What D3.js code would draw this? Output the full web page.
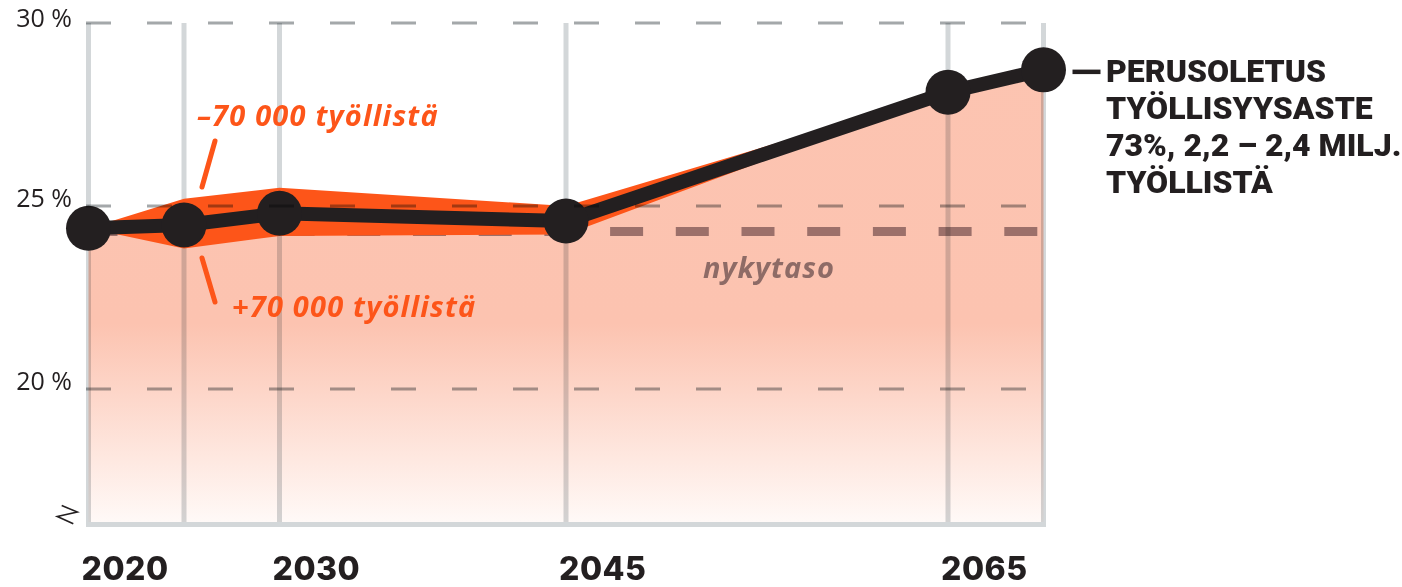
<!DOCTYPE html>
<html>
<head>
<meta charset="utf-8">
<script src="https://cdn.jsdelivr.net/npm/d3@7"></script>
<style>
  body { margin: 0; background: #fff; }
  svg { display: block; }
</style>
</head>
<body>
<div id="chart"></div>
<script>
// data
const years = [2020, 2025, 2030, 2045, 2065, 2070];
const baseRate = [24.39, 24.48, 24.80, 24.59, 28.11, 28.72];   // perusoletus
const bandHigh = [24.39, 25.20, 25.50, 25.00, 28.11, 28.72];   // -70 000 työllistä
const bandLow = [24.39, 23.84, 24.18, 24.22, 28.11, 28.72];    // +70 000 työllistä
const currentLevel = 24.30;                                    // nykytaso
const yTicks = [20, 25, 30];
const xLabels = [2020, 2030, 2045, 2065];
const yMin = 16.3;
const mainLabel = ['PERUSOLETUS', 'TYÖLLISYYSASTE', '73%, 2,2 – 2,4 MILJ.', 'TYÖLLISTÄ'];

const width = 1402, height = 587;
const black = '#231f20', orange = '#fd5519', grid = '#d3d7d9';

const svg = d3.select('#chart').append('svg')
    .attr('width', width)
    .attr('height', height);

const x = d3.scaleLinear().domain([2020, 2070]).range([88.5, 1043.5]);
const y = d3.scaleLinear().domain([20, 30]).range([389, 23]);

const rows = years.map((yr, i) => ({year: yr, v: baseRate[i], hi: bandHigh[i], lo: bandLow[i]}));

// gradient for the area fill
const defs = svg.append('defs');
const grad = defs.append('linearGradient')
    .attr('id', 'fillGrad')
    .attr('gradientUnits', 'userSpaceOnUse')
    .attr('x1', 0).attr('x2', 0)
    .attr('y1', y(30)).attr('y2', y(yMin));
grad.append('stop').attr('offset', 0).attr('stop-color', '#fcc4b1');
grad.append('stop').attr('offset', 0.6).attr('stop-color', '#fcc3b0');
grad.append('stop').attr('offset', 1).attr('stop-color', '#fffaf8');

// area under the main line
const area = d3.area()
    .x(d => x(d.year))
    .y0(y(yMin))
    .y1(d => y(d.v));
svg.append('path')
    .datum(rows)
    .attr('d', area)
    .attr('fill', 'url(#fillGrad)');

// nykytaso dashed line
svg.append('line')
    .attr('x1', x(2020) - 4).attr('x2', x(2070))
    .attr('y1', y(currentLevel)).attr('y2', y(currentLevel))
    .attr('stroke', '#9c706a')
    .attr('stroke-width', 9)
    .attr('stroke-dasharray', '33,32.7');

// vertical grid lines
svg.append('g')
    .selectAll('line')
    .data(years)
    .join('line')
    .attr('x1', d => x(d)).attr('x2', d => x(d))
    .attr('y1', y(30)).attr('y2', y(yMin))
    .attr('stroke', grid)
    .attr('stroke-width', 5)
    .style('mix-blend-mode', 'multiply');

// bottom axis line
svg.append('line')
    .attr('x1', x(2020) - 2.5).attr('x2', x(2070) + 2.5)
    .attr('y1', y(yMin)).attr('y2', y(yMin))
    .attr('stroke', grid)
    .attr('stroke-width', 5);

// orange uncertainty band
const band = d3.area()
    .x(d => x(d.year))
    .y0(d => y(d.lo))
    .y1(d => y(d.hi));
svg.append('path')
    .datum(rows)
    .attr('d', band)
    .attr('fill', orange);

// main line + dots
const line = d3.line()
    .x(d => x(d.year))
    .y(d => y(d.v));
svg.append('path')
    .datum(rows)
    .attr('d', line)
    .attr('fill', 'none')
    .attr('stroke', black)
    .attr('stroke-width', 14)
    .attr('stroke-linejoin', 'round');

svg.append('g')
    .selectAll('circle')
    .data(rows)
    .join('circle')
    .attr('cx', d => x(d.year))
    .attr('cy', d => y(d.v))
    .attr('r', 22.5)
    .attr('fill', black);

// horizontal dashed grid lines on top
svg.append('g')
    .selectAll('line')
    .data(yTicks)
    .join('line')
    .attr('x1', x(2020) - 2.5).attr('x2', x(2070))
    .attr('y1', d => y(d)).attr('y2', d => y(d))
    .attr('stroke', '#a4a8aa')
    .attr('stroke-width', 3)
    .attr('stroke-dasharray', '25,36')
    .style('mix-blend-mode', 'multiply');

// y labels
svg.append('g')
    .selectAll('text')
    .data(yTicks)
    .join('text')
    .attr('x', 72)
    .attr('y', d => y(d) + (d === 30 ? 4 : 1))
    .attr('text-anchor', 'end')
    .attr('font-family', 'Open Sans, sans-serif')
    .attr('font-size', 25)
    .attr('fill', black)
    .text(d => d + ' %');

// axis break mark
svg.append('path')
    .attr('d', `M61.7,${y(yMin) - 19}L77.3,${y(yMin) - 12.3}L57.3,${y(yMin) - 8}L73.3,${y(yMin) - 0.7}`)
    .attr('fill', 'none')
    .attr('stroke', black)
    .attr('stroke-width', 1.6);

// x labels
svg.append('g')
    .selectAll('text')
    .data(xLabels)
    .join('text')
    .attr('x', d => x(d) - 7)
    .attr('y', 580)
    .attr('font-family', 'Inter, sans-serif')
    .attr('font-weight', 800)
    .attr('font-size', 32)
    .attr('letter-spacing', 0.5)
    .attr('fill', black)
    .text(d => d);

// band annotations
const annot = svg.append('g')
    .attr('font-family', 'Open Sans, sans-serif')
    .attr('font-style', 'italic')
    .attr('font-weight', 700)
    .attr('font-size', 29)
    .attr('letter-spacing', 1.2)
    .attr('fill', orange);
annot.append('text')
    .attr('x', x(2025) + 13).attr('y', 126)
    .text('–70 000 työllistä');
annot.append('text')
    .attr('x', x(2025) + 48).attr('y', 317)
    .text('+70 000 työllistä');

svg.append('line')
    .attr('x1', x(2025) + 31).attr('y1', 141)
    .attr('x2', x(2025) + 18).attr('y2', 187)
    .attr('stroke', orange).attr('stroke-width', 5).attr('stroke-linecap', 'round');
svg.append('line')
    .attr('x1', x(2025) + 18).attr('y1', 258)
    .attr('x2', x(2025) + 31).attr('y2', 302)
    .attr('stroke', orange).attr('stroke-width', 5).attr('stroke-linecap', 'round');

svg.append('text')
    .attr('x', 703).attr('y', y(currentLevel) + 46)
    .attr('font-family', 'Open Sans, sans-serif')
    .attr('font-style', 'italic')
    .attr('font-weight', 700)
    .attr('font-size', 29)
    .attr('letter-spacing', 1)
    .attr('fill', '#8e6b66')
    .text('nykytaso');

// main series label
const last = rows[rows.length - 1];
svg.append('line')
    .attr('x1', x(last.year) + 29).attr('x2', x(last.year) + 57)
    .attr('y1', y(last.v) + 2).attr('y2', y(last.v) + 2)
    .attr('stroke', black).attr('stroke-width', 4.5);
svg.append('g')
    .selectAll('text')
    .data(mainLabel)
    .join('text')
    .attr('x', 1106)
    .attr('y', (d, i) => 82 + i * 37)
    .attr('font-family', 'Roboto, sans-serif')
    .attr('font-weight', 900)
    .attr('font-size', 32)
    .attr('fill', black)
    .text(d => d);
</script>
</body>
</html>
